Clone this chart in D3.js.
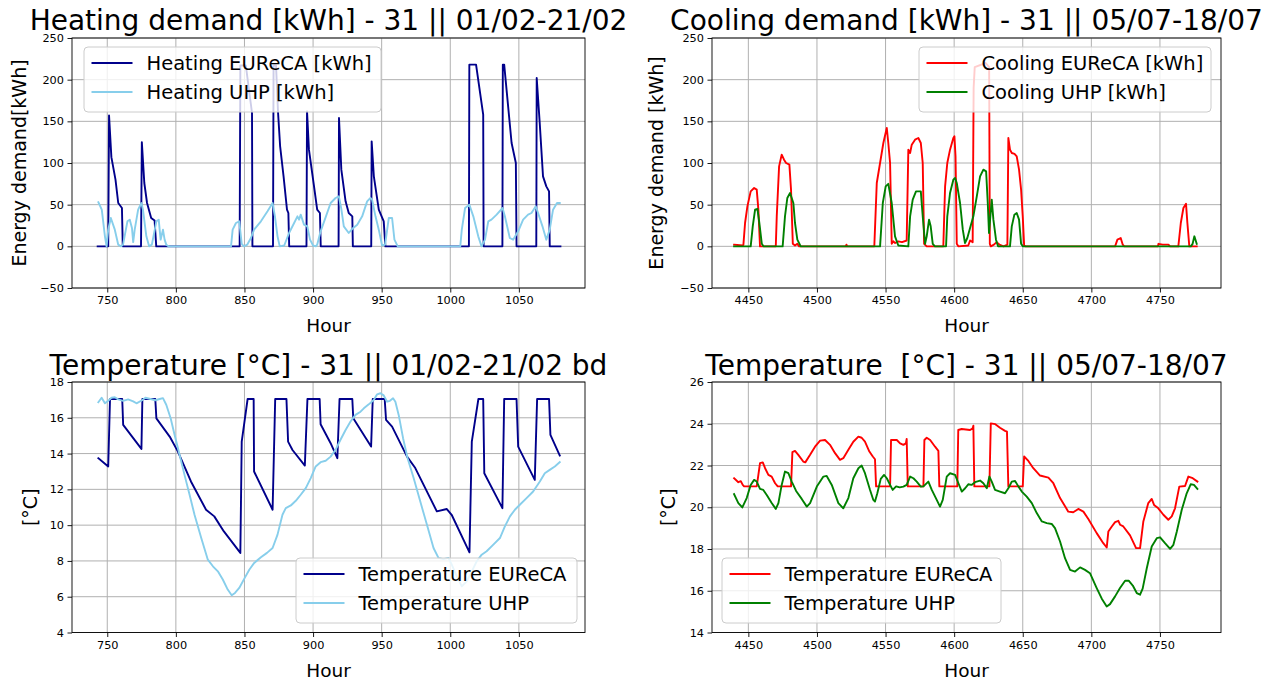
<!DOCTYPE html>
<html>
<head>
<meta charset="utf-8">
<script src="https://cdn.jsdelivr.net/npm/d3@7"></script>
<style>
  body { margin: 0; background: #fff; }
  svg { display: block; }
  text { font-family: "DejaVu Sans", sans-serif; fill: #000; }
</style>
</head>
<body>
<svg id="fig" width="1269" height="684"></svg>
<script>
// ---- Heating period (hour of year, kWh) ----
const heatingEureca = [
  [743,0],[750.7,0],[751.3,157],[753,107],[756,80],[758,52],[760.7,46],[761.3,0],
  [774.6,0],[775.2,125],[777,76],[779,52],[782,34],[784.5,31],[785.7,0],
  [846.5,0],[847,217],[851,217],[855.5,160],[855.8,0],
  [870.8,0],[871.2,217],[873,217],[874.5,160],[876,120],[878.5,84],[881,44],[882,40],[882.6,0],
  [895.2,0],[895.6,162],[897,116],[900.7,72],[903,44],[905,40],[905.6,0],
  [918.6,0],[918.9,154],[920.6,92],[923.7,54],[926,40],[928.6,36],[929,0],
  [942.4,0],[942.7,126],[944.3,84],[947.9,44],[951.5,30],[952.7,0],
  [1013.6,0],[1013.9,218],[1018.8,218],[1024,158],[1024.3,0],
  [1038,0],[1038.3,218],[1039.3,218],[1044.7,124],[1047.8,100],[1048.3,0],
  [1062.7,0],[1063,202],[1065.2,148],[1067.6,84],[1070,72],[1072,66],[1072.5,0],
  [1080.3,0]
];
const heatingUhp = [
  [743.5,53],[746,44],[748.3,12],[749.5,0],[750.7,20],[752.6,34],[755.5,20],[758,2],[760,0],
  [761.5,2],[764.7,30],[766.4,32],[768,22],[768.9,5],[770,20],[772.5,44],[774.9,52],[776,44],
  [778.5,12],[780.5,0],[782.5,2],[785.8,30],[787.5,32],[788.9,8],[790.6,20],[791.8,8],[793,2],[794.6,0],
  [840.2,0],[841.4,20],[843.8,28],[846.2,30],[848,3],[849.6,0],[852,2],[854.7,10],[857,20],
  [862,30],[866.8,42],[870.5,52],[872.2,36],[874.1,12],[875.7,0],[879,1],[882.5,16],[886.2,28],
  [888.6,36],[889.8,32],[891,38],[893.4,26],[895.8,24],[897.8,8],[900,1],[902,0],[903,2],
  [905.5,18],[909.2,35],[912.8,52],[916.4,58],[918.8,60],[920.6,45],[922.4,24],[926,16],
  [928.6,21],[932.2,26],[935.8,36],[939.4,54],[941.8,58],[943,56],[945.5,36],[947.9,20],
  [950.3,1],[952.5,2],[955.2,34],[957.6,34],[959.3,8],[961.7,0],
  [1007.3,0],[1008.4,20],[1010.8,46],[1013.9,50],[1016.8,36],[1020.4,12],[1022.8,0],[1025.3,8],
  [1027.7,30],[1030,32],[1033.8,38],[1038.1,46],[1039.8,36],[1043.4,10],[1045.8,8],[1049.5,18],
  [1053.1,32],[1056.7,38],[1059.2,40],[1062.3,48],[1064,40],[1067.2,24],[1070,8],[1072.5,20],
  [1074.9,44],[1077.8,52],[1079.8,52]
];

// ---- Cooling period (hour of year, kWh) ----
const coolingEureca = [
  [4439.6,2],[4446,1],[4446.4,2],[4447.6,28],[4449.3,48],[4451.7,66],[4454.2,70],[4456.1,68],
  [4457.3,44],[4458.5,0],
  [4470,0],[4470.7,36],[4472.4,96],[4474.3,110],[4476,104],[4477.5,100],[4479.9,98],[4481.1,68],
  [4482.4,3],[4484,1],[4485.7,3],[4487,0],
  [4521,0],[4521.5,2],[4522,0],
  [4541.8,0],[4543.6,76],[4546,100],[4548.4,124],[4549.5,132],[4550.9,142],[4552,124],[4553.3,100],
  [4554.5,3],[4555.7,6],[4557,4],[4559.3,6],[4562,5],[4565.4,7],[4566.6,116],[4567.9,112],
  [4569.1,122],[4571.5,128],[4573.9,130],[4575.7,124],[4577.1,100],[4578.1,3],[4580,0],
  [4592.1,0],[4593.4,72],[4595,100],[4597,116],[4599.4,130],[4600.2,132],[4601,108],[4601.9,3],
  [4603,0],[4610.3,1],[4611.6,7],[4613.5,5],[4614.2,190],[4615,215],[4623,220],[4625.5,215],
  [4626,3],[4626.7,0],[4629,2],[4631,5],[4633,2],[4636,0],[4638.8,2],[4639.5,130],[4640.7,116],
  [4642,112],[4644,111],[4645.6,108],[4647.3,92],[4648.8,68],[4650,36],[4651,1],[4652,0],
  [4717.3,0],[4719,8],[4721.4,10],[4722.9,2],[4724,0],
  [4748.5,0],[4748.9,3],[4752,2],[4756.2,2],[4757.4,0],[4763.4,0],[4765.2,28],[4767.1,46],
  [4769,51],[4770,28],[4771.4,0],[4776.8,0]
];
const coolingUhp = [
  [4439.6,0],[4451.7,0],[4453.2,24],[4454.9,44],[4456.6,45],[4458,28],[4459.8,3],[4461,0],
  [4475,0],[4476.7,36],[4478.4,58],[4480.4,64],[4482.8,52],[4484,28],[4485.7,8],[4488.2,0],
  [4546,0],[4548,52],[4550.1,72],[4552,75],[4554.5,52],[4556.9,12],[4559.3,1],[4566.6,0],
  [4567.9,36],[4569.8,56],[4572.2,66],[4575.7,66],[4577.1,36],[4578.8,3],[4580,12],[4581.7,32],
  [4582.9,24],[4584.4,3],[4586,0],
  [4594.1,0],[4595,36],[4597,64],[4599.4,80],[4600.7,82],[4601.9,76],[4604.3,52],[4606.3,20],
  [4607.9,4],[4609.6,10],[4611.6,22],[4614,36],[4616.5,60],[4618.9,84],[4621.3,92],[4623.3,90],
  [4624.5,52],[4625.4,16],[4626.2,32],[4627.4,56],[4628.6,32],[4630.5,8],[4632,0],
  [4640.7,0],[4642,24],[4643.9,38],[4645.6,40],[4647.3,32],[4648.8,3],[4650,0],
  [4772.5,0],[4773.8,3],[4775.1,12],[4776.8,3]
];

// ---- Indoor temperature, heating period (°C) ----
const tempWinterEureca = [
  [743.5,13.74],[750.7,13.28],[752,17.05],[760.9,17.05],[761.6,15.6],[774.9,14.26],[775.6,17.05],
  [785,17.05],[785.8,15.97],[795.5,14.95],[801.5,14.11],[811,12.44],[822,10.86],[828,10.49],
  [835,9.65],[847,8.45],[848,14.67],[852.3,17.05],[856.7,17.05],[857,13.0],[870.5,10.86],
  [872.4,17.05],[880.6,17.05],[881.8,14.67],[885,14.2],[894,13.33],[895.9,17.05],[904.8,17.05],
  [905.5,15.64],[912.8,14.58],[917.7,13.74],[919.3,17.05],[928.6,17.05],[929.3,15.97],[942.3,14.39],
  [943.5,17.05],[952.2,17.05],[953.2,15.88],[957.6,15.51],[968.5,13.83],[974.5,13.19],[990.2,10.77],
  [997.5,10.9],[1001,10.58],[1014,8.48],[1015.7,14.67],[1020.5,17.05],[1024,17.05],[1024.8,12.9],
  [1038,10.95],[1039.3,17.05],[1048.3,17.05],[1049.5,14.39],[1061.6,12.53],[1063.3,17.05],
  [1072,17.05],[1073,15.04],[1079.8,13.89]
];
const tempWinterUhp = [
  [743.5,16.87],[745.9,17.12],[748.3,16.81],[750.7,16.95],[753.1,17.12],[755.5,17.15],[758,17.03],
  [761.6,16.95],[765.2,17.03],[768.9,16.92],[771.3,16.81],[775.4,16.98],[777.8,17.12],[781.5,17.05],
  [785.1,16.98],[788.2,17.05],[790.6,17.1],[793,16.73],[796.2,15.97],[799.1,15.04],[802.7,13.93],
  [806.3,12.81],[810,11.7],[813.6,10.58],[818.5,9.28],[823.3,8.07],[827,7.7],[830.6,7.42],
  [834.2,6.96],[837.8,6.4],[840.7,6.08],[843.1,6.21],[846.2,6.49],[849.9,7.01],[853.5,7.51],
  [857.1,7.89],[862,8.2],[866.4,8.45],[870.5,8.72],[874.1,9.47],[877.7,10.58],[880.1,10.95],
  [883.8,11.1],[887.4,11.36],[891,11.7],[894.7,12.07],[898.3,12.63],[901.9,13.28],[905.5,13.52],
  [909.2,13.6],[912.8,13.83],[916.4,14.21],[920,14.77],[923.7,15.32],[927.3,15.79],[930.9,16.16],
  [934.6,16.34],[937,16.53],[940.6,16.75],[944.2,16.99],[946.7,17.31],[949.1,17.37],[951.5,17.25],
  [954,16.9],[956,16.95],[958.3,17.09],[960,16.9],[962.4,16.16],[965.6,14.86],[968.9,13.74],
  [973.3,12.63],[978.1,11.33],[983,10.02],[987.8,8.72],[991.4,8.17],[995,8.1],[998.7,8.17],
  [1001.1,7.79],[1004.8,7.14],[1008.4,6.58],[1012,6.86],[1015.7,7.42],[1019.3,7.98],[1022.9,8.35],
  [1026.5,8.54],[1031.4,8.91],[1036.2,9.28],[1039.8,9.93],[1043.5,10.49],[1047.1,10.86],
  [1050.7,11.14],[1055.6,11.51],[1060.4,11.88],[1065.3,12.44],[1068.9,12.9],[1072.5,13.09],
  [1076.2,13.28],[1079.8,13.52]
];

// ---- Indoor temperature, cooling period (°C) ----
const tempSummerEureca = [
  [4439.6,21.39],[4442.7,21.2],[4444.5,21.25],[4445.9,21.07],[4446.9,21.0],[4456.1,21.0],
  [4457.3,21.55],[4458.5,22.11],[4460.5,22.15],[4462.2,21.87],[4464.6,21.55],[4467,21.47],
  [4469.5,21.15],[4471.4,21.0],[4481.1,21.0],[4482.1,22.64],[4484,22.7],[4486.4,22.51],
  [4490,22.19],[4491.5,22.15],[4495,22.51],[4498.6,22.9],[4502.3,23.19],[4505.9,23.22],
  [4509.5,22.99],[4513.2,22.59],[4516.8,22.27],[4519.2,22.35],[4522.9,22.75],[4526.5,23.14],
  [4530.2,23.38],[4532.6,23.33],[4535,23.14],[4538.2,22.67],[4540.7,22.43],[4542.3,22.3],
  [4543.1,21.0],[4553.3,21.0],[4554,23.22],[4558.2,23.22],[4560.6,23.06],[4563,22.99],
  [4564.8,23.06],[4565.4,23.27],[4566.2,21.0],[4577.6,21.0],[4578.3,23.22],[4580,23.33],
  [4582.5,23.22],[4586.1,22.9],[4588.5,22.7],[4589.2,21.0],[4602.3,21.0],[4603,23.7],
  [4605.5,23.75],[4611.6,23.7],[4613.5,23.78],[4614,23.91],[4614.7,21.0],[4625.7,21.0],
  [4626.7,24.02],[4630,23.98],[4633.4,23.81],[4637.1,23.66],[4638.5,23.62],[4639.5,21.0],
  [4650,21.0],[4651,22.43],[4654.1,22.22],[4657.7,21.87],[4662.6,21.52],[4668.7,21.42],
  [4672.3,21.15],[4677.2,20.44],[4683.2,19.79],[4686.8,19.76],[4690.5,19.92],[4694.2,19.79],
  [4697.8,19.44],[4703.9,18.76],[4708.7,18.28],[4711.2,18.07],[4712.4,18.84],[4714.9,19.08],
  [4717.3,19.29],[4719.7,19.35],[4721,19.16],[4723.3,19.08],[4728.2,18.65],[4732.6,18.04],
  [4735.5,18.04],[4737.9,19.32],[4741.5,20.2],[4744,20.4],[4745.7,20.11],[4748.8,19.95],
  [4752.5,19.64],[4756.1,19.4],[4758.6,19.56],[4761,19.95],[4764.1,20.99],[4768.3,21.02],
  [4770.7,21.47],[4773.9,21.39],[4777.3,21.23]
];
const tempSummerUhp = [
  [4439.6,20.63],[4442.7,20.2],[4445.6,19.99],[4448.8,20.44],[4451.7,21.07],[4454.2,21.31],
  [4456.1,21.23],[4458.5,20.88],[4460.9,20.83],[4463.4,20.59],[4467,20.2],[4470,19.92],
  [4471.9,20.2],[4474.3,21.07],[4476.7,21.71],[4479.2,21.63],[4481.6,21.23],[4484.8,20.78],
  [4488.9,20.4],[4492.6,20.03],[4495,20.2],[4499.9,20.99],[4504.7,21.47],[4507.1,21.5],
  [4510.8,21.07],[4515.6,20.2],[4519.2,19.95],[4522.9,20.44],[4526.5,21.39],[4530.2,21.87],
  [4532.6,22.0],[4535,21.63],[4538.7,20.83],[4541.1,20.35],[4542.3,20.27],[4544,20.67],
  [4546.5,21.36],[4548.9,21.55],[4550.9,21.39],[4553.3,21.07],[4555.2,20.83],[4557.7,21.0],
  [4560.3,20.95],[4563,20.99],[4565.4,21.07],[4567.9,21.47],[4570.3,21.39],[4572.7,21.23],
  [4575.7,20.99],[4577.6,21.0],[4581.2,21.23],[4583.7,20.83],[4587.3,20.35],[4589.7,20.03],
  [4591.7,20.35],[4594.6,21.47],[4597,21.63],[4600.7,21.55],[4603.1,21.15],[4605.6,20.75],
  [4608,20.91],[4610.3,21.1],[4612.7,21.07],[4615.2,21.2],[4618.9,21.28],[4621.3,21.15],
  [4623.8,20.91],[4625.7,21.47],[4627.4,21.23],[4629.8,20.83],[4633.4,20.75],[4637.1,20.67],
  [4639.5,20.91],[4642,21.23],[4644.4,21.26],[4646.8,21.0],[4649.3,20.75],[4652.9,20.51],
  [4656.6,20.2],[4660.2,19.72],[4663.9,19.32],[4667.5,19.24],[4671.1,19.2],[4673.5,19.0],
  [4677.2,18.36],[4680.8,17.56],[4684.5,17.0],[4688.1,16.92],[4691.8,17.12],[4695.4,17.0],
  [4699,16.84],[4703.9,16.13],[4707.6,15.62],[4711.2,15.25],[4713.6,15.36],[4717.3,15.73],
  [4720.9,16.13],[4724.6,16.48],[4727.2,16.48],[4730.2,16.25],[4733.1,15.89],[4735.5,15.81],
  [4737.4,16.1],[4740.4,17.08],[4744,18.12],[4747.7,18.52],[4750.1,18.56],[4753.7,18.28],
  [4757.4,18.01],[4759.8,18.2],[4762.3,18.84],[4765.9,19.88],[4769.5,20.67],[4772.4,21.1],
  [4774.8,21.07],[4777.3,20.88]
];

// ---- Tick values ----
const hourTicksWinter = [750, 800, 850, 900, 950, 1000, 1050];
const hourTicksSummer = [4450, 4500, 4550, 4600, 4650, 4700, 4750];
const demandTicks = [-50, 0, 50, 100, 150, 200, 250];
const tempTicksWinter = [4, 6, 8, 10, 12, 14, 16, 18];
const tempTicksSummer = [14, 16, 18, 20, 22, 24, 26];

const NAVY = "#00008b", SKY = "#87ceeb", RED = "#ff0000", GREEN = "#008000";

const panels = [
  {
    id: "heat", left: 72, right: 585, top: 38, bottom: 288,
    xDomain: [724.3, 1098.2], yDomain: [-50, 250],
    xTicks: hourTicksWinter, yTicks: demandTicks,
    title: "Heating demand [kWh] - 31 || 01/02-21/02", titleY: 30,
    ylabel: "Energy demand[kWh]", ylabelX: 26,
    series: [
      { data: heatingEureca, color: NAVY, name: "Heating EUReCA [kWh]" },
      { data: heatingUhp, color: SKY, name: "Heating UHP [kWh]" }
    ],
    legend: { x: 84, y: 47, w: 297, h: 65 }
  },
  {
    id: "cool", left: 712, right: 1221, top: 38, bottom: 288,
    xDomain: [4423.5, 4794.5], yDomain: [-50, 250],
    xTicks: hourTicksSummer, yTicks: demandTicks,
    title: "Cooling demand [kWh] - 31 || 05/07-18/07", titleY: 30,
    ylabel: "Energy demand [kWh]", ylabelX: 663,
    series: [
      { data: coolingEureca, color: RED, name: "Cooling EUReCA [kWh]" },
      { data: coolingUhp, color: GREEN, name: "Cooling UHP [kWh]" }
    ],
    legend: { x: 919, y: 47, w: 292, h: 65 }
  },
  {
    id: "tw", left: 72, right: 585, top: 382, bottom: 632.5,
    xDomain: [724.3, 1098.2], yDomain: [4, 18],
    xTicks: hourTicksWinter, yTicks: tempTicksWinter,
    title: "Temperature [°C] - 31 || 01/02-21/02 bd", titleY: 375,
    ylabel: "[°C]", ylabelX: 37,
    series: [
      { data: tempWinterEureca, color: NAVY, name: "Temperature EUReCA" },
      { data: tempWinterUhp, color: SKY, name: "Temperature UHP" }
    ],
    legend: { x: 296, y: 558, w: 281, h: 65 }
  },
  {
    id: "ts", left: 712, right: 1221, top: 382, bottom: 632.5,
    xDomain: [4423.5, 4794.5], yDomain: [14, 26],
    xTicks: hourTicksSummer, yTicks: tempTicksSummer,
    title: "Temperature  [°C] - 31 || 05/07-18/07", titleY: 375,
    ylabel: "[°C]", ylabelX: 675,
    series: [
      { data: tempSummerEureca, color: RED, name: "Temperature EUReCA" },
      { data: tempSummerUhp, color: GREEN, name: "Temperature UHP" }
    ],
    legend: { x: 722, y: 558, w: 279, h: 65 }
  }
];

const svg = d3.select("#fig");
const defs = svg.append("defs");
const intFormat = d3.format("d");

function drawPanel(p) {
  const x = d3.scaleLinear().domain(p.xDomain).range([p.left, p.right]);
  const y = d3.scaleLinear().domain(p.yDomain).range([p.bottom, p.top]);
  const g = svg.append("g");

  defs.append("clipPath").attr("id", "clip-" + p.id)
    .append("rect")
    .attr("x", p.left).attr("y", p.top)
    .attr("width", p.right - p.left).attr("height", p.bottom - p.top);

  // grid
  g.append("g").selectAll("line").data(p.xTicks).join("line")
    .attr("x1", d => x(d)).attr("x2", d => x(d))
    .attr("y1", p.top).attr("y2", p.bottom)
    .attr("stroke", "#b0b0b0").attr("stroke-width", 1);
  g.append("g").selectAll("line").data(p.yTicks).join("line")
    .attr("x1", p.left).attr("x2", p.right)
    .attr("y1", d => y(d)).attr("y2", d => y(d))
    .attr("stroke", "#b0b0b0").attr("stroke-width", 1);

  // series
  const line = d3.line().x(d => x(d[0])).y(d => y(d[1]));
  p.series.forEach(s => {
    g.append("path")
      .attr("d", line(s.data))
      .attr("fill", "none")
      .attr("stroke", s.color)
      .attr("stroke-width", 1.9)
      .attr("stroke-linejoin", "round")
      .attr("stroke-linecap", "square")
      .attr("clip-path", `url(#clip-${p.id})`);
  });

  // axes
  const xAxis = d3.axisBottom(x).tickValues(p.xTicks).tickFormat(intFormat)
    .tickSize(4.5).tickPadding(3.5).tickSizeOuter(0);
  const yAxis = d3.axisLeft(y).tickValues(p.yTicks).tickFormat(intFormat)
    .tickSize(4.5).tickPadding(3.5).tickSizeOuter(0);
  const gx = g.append("g").attr("transform", `translate(0,${p.bottom})`).call(xAxis);
  const gy = g.append("g").attr("transform", `translate(${p.left},0)`).call(yAxis);
  [gx, gy].forEach(a => {
    a.select(".domain").remove();
    a.selectAll(".tick line").attr("stroke", "#000").attr("stroke-width", 0.9);
    a.selectAll(".tick text")
      .attr("font-family", '"DejaVu Sans", sans-serif')
      .attr("font-size", 11.3).attr("fill", "#000");
  });

  // frame
  g.append("rect")
    .attr("x", p.left).attr("y", p.top)
    .attr("width", p.right - p.left).attr("height", p.bottom - p.top)
    .attr("fill", "none").attr("stroke", "#000").attr("stroke-width", 0.9);

  // title and axis labels
  g.append("text")
    .attr("x", (p.left + p.right) / 2).attr("y", p.titleY)
    .attr("text-anchor", "middle").attr("font-size", 28)
    .style("white-space", "pre")
    .text(p.title);
  g.append("text")
    .attr("x", (p.left + p.right) / 2).attr("y", p.bottom + 44)
    .attr("text-anchor", "middle").attr("font-size", 18.5)
    .text("Hour");
  g.append("text")
    .attr("transform", `translate(${p.ylabelX},${(p.top + p.bottom) / 2}) rotate(-90)`)
    .attr("text-anchor", "middle").attr("font-size", 19)
    .text(p.ylabel);

  // legend
  const L = p.legend;
  const lg = g.append("g");
  lg.append("rect")
    .attr("x", L.x).attr("y", L.y).attr("width", L.w).attr("height", L.h)
    .attr("rx", 4).attr("ry", 4)
    .attr("fill", "#fff").attr("fill-opacity", 0.8)
    .attr("stroke", "#cccccc").attr("stroke-width", 1);
  const rows = lg.selectAll("g.row").data(p.series).join("g")
    .attr("class", "row")
    .attr("transform", (d, i) => `translate(${L.x},${L.y + 16 + i * 29})`);
  rows.append("line")
    .attr("x1", 7.5).attr("x2", 48.5).attr("y1", 0).attr("y2", 0)
    .attr("stroke", d => d.color).attr("stroke-width", 1.9);
  rows.append("text")
    .attr("x", 62.5).attr("y", 0).attr("dy", "0.36em")
    .attr("font-size", 19.5)
    .text(d => d.name);
}

panels.forEach(drawPanel);
</script>
</body>
</html>
